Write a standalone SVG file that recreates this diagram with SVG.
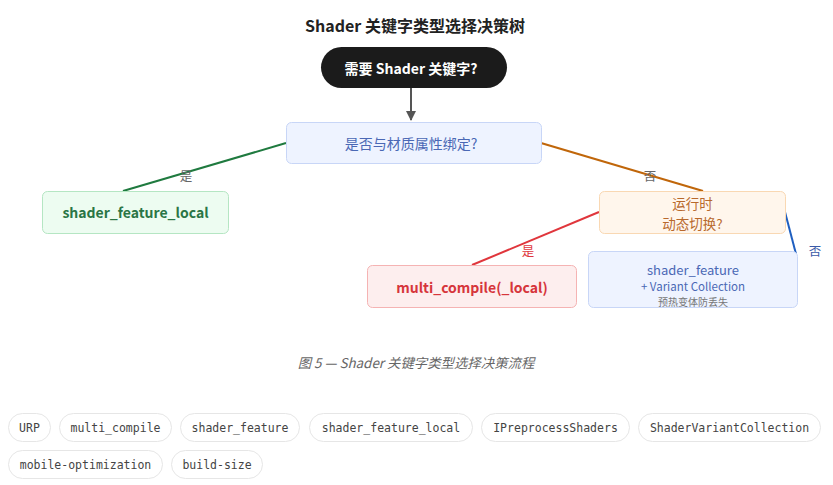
<svg xmlns="http://www.w3.org/2000/svg" width="833" height="485" viewBox="0 0 833 485">
<defs>
<style>
text{font-family:"Noto Sans CJK SC","Noto Sans",sans-serif;text-anchor:middle;dominant-baseline:central}
.title{font-size:16px;font-weight:700;fill:#222}
.lbl{font-size:12.5px}
.box{stroke-width:1}
.tag rect{fill:#fff;stroke:#e6e6e6;stroke-width:1}
.tag text{font-family:"DejaVu Sans Mono","Liberation Mono",monospace;font-size:11.5px;fill:#444}
.edge{fill:none;stroke-width:2}
</style>
<marker id="arr" viewBox="0 0 10 10" refX="9" refY="5" markerWidth="5" markerHeight="5" orient="auto">
<path d="M0,0 L10,5 L0,10 z" fill="#555"/>
</marker>
</defs>
<rect width="833" height="485" fill="#fff"/>
<text class="title" x="415" y="25">Shader 关键字类型选择决策树</text>

<g id="connectors">
<line class="edge" x1="411" y1="88" x2="411" y2="120" stroke="#555" marker-end="url(#arr)"/>
<line class="edge" x1="286" y1="143" x2="123" y2="191" stroke="#1f7a3f"/>
<text class="lbl" x="186" y="175" fill="#666">是</text>
<line class="edge" x1="541" y1="143" x2="703" y2="191" stroke="#c0660a"/>
<text class="lbl" x="650" y="175" fill="#666">否</text>
<line class="edge" x1="599" y1="212" x2="472" y2="265" stroke="#e0363c"/>
<text class="lbl" x="528" y="250" fill="#e0363c">是</text>
<line class="edge" x1="785" y1="212" x2="796" y2="254" stroke="#1f5fc0"/>
<text class="lbl" x="815" y="250" fill="#3a5aa8">否</text>
</g>

<g id="start">
<rect x="321" y="47" width="186" height="41" rx="20.5" fill="#1b1b1b"/>
<text x="411" y="68" font-size="14" font-weight="700" fill="#fff">需要 Shader 关键字?</text>
</g>
<g id="q1">
<rect class="box" x="286.5" y="122.5" width="255" height="41" rx="5" fill="#eef3ff" stroke="#c8d6f7"/>
<text x="411" y="143" font-size="14" fill="#4a68b5">是否与材质属性绑定?</text>
</g>
<g id="sfl">
<rect class="box" x="42.5" y="191.5" width="186" height="42" rx="5" fill="#edfcf1" stroke="#b5e6c3"/>
<text x="135.5" y="212" font-size="14" font-weight="700" fill="#2a7545">shader_feature_local</text>
</g>
<g id="q2">
<rect class="box" x="599.5" y="191.5" width="186" height="42" rx="5" fill="#fff6ec" stroke="#f9d8b3"/>
<text x="692.5" y="203" font-size="13.5" fill="#b8692c">运行时</text>
<text x="692.5" y="223" font-size="13.5" fill="#b8692c">动态切换?</text>
</g>
<g id="mc">
<rect class="box" x="367.5" y="265.5" width="209" height="42" rx="5" fill="#fdeeee" stroke="#f5b3b3"/>
<text x="472" y="287" font-size="14" font-weight="700" fill="#d6353b">multi_compile(_local)</text>
</g>
<g id="sf">
<rect class="box" x="588.5" y="251.5" width="209" height="56" rx="5" fill="#eef3ff" stroke="#c8d6f7"/>
<text x="693" y="269" font-size="13" fill="#4a68b5">shader_feature</text>
<text x="693" y="286" font-size="11.5" fill="#4a68b5">+ Variant Collection</text>
<text x="693" y="301.5" font-size="10" fill="#777">预热变体防丢失</text>
</g>

<text x="416" y="362" font-size="13.4" font-style="italic" fill="#666">图 5 — Shader 关键字类型选择决策流程</text>

<g id="tags">
<g class="tag"><rect x="8.5" y="413.5" width="42" height="28" rx="14"/><text x="29.5" y="427.5">URP</text></g>
<g class="tag"><rect x="59.5" y="413.5" width="112" height="28" rx="14"/><text x="115.5" y="427.5">multi_compile</text></g>
<g class="tag"><rect x="180.5" y="413.5" width="119" height="28" rx="14"/><text x="240" y="427.5">shader_feature</text></g>
<g class="tag"><rect x="309.5" y="413.5" width="163" height="28" rx="14"/><text x="391" y="427.5">shader_feature_local</text></g>
<g class="tag"><rect x="481.5" y="413.5" width="148" height="28" rx="14"/><text x="555.5" y="427.5">IPreprocessShaders</text></g>
<g class="tag"><rect x="638.5" y="413.5" width="182" height="28" rx="14"/><text x="729.5" y="427.5">ShaderVariantCollection</text></g>
<g class="tag"><rect x="8.5" y="450.5" width="154" height="28" rx="14"/><text x="85.5" y="464.5">mobile-optimization</text></g>
<g class="tag"><rect x="171.5" y="450.5" width="91" height="28" rx="14"/><text x="217" y="464.5">build-size</text></g>
</g>
</svg>
